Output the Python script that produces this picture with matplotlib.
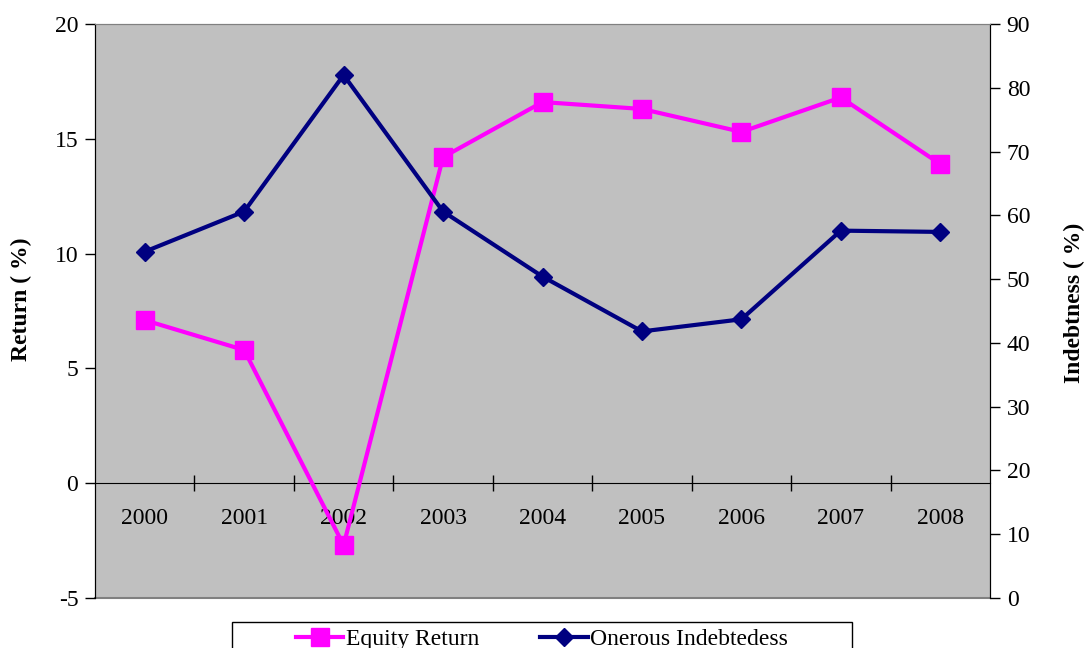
import matplotlib.pyplot as plt
from matplotlib.patches import Rectangle
from matplotlib.lines import Line2D

years = ['2000', '2001', '2002', '2003', '2004', '2005', '2006', '2007', '2008']
equity_return = [7.1, 5.8, -2.7, 14.2, 16.6, 16.3, 15.3, 16.8, 13.9]
onerous_indebtedness = [54.3, 60.6, 82.0, 60.6, 50.4, 41.8, 43.7, 57.6, 57.4]

plt.rcParams['font.family'] = ['Liberation Serif', 'DejaVu Serif']
plt.rcParams['axes.unicode_minus'] = False

fig = plt.figure(figsize=(10.87, 6.48), dpi=100)
ax = fig.add_axes([95 / 1087, 50 / 648, 895 / 1087, 574 / 648])
ax2 = ax.twinx()

x = list(range(len(years)))

ax.set_facecolor('#C0C0C0')
ax.plot(x, equity_return, color='#FF00FF', lw=3, marker='s', ms=12.5,
        label='Equity Return', clip_on=False, zorder=3)
ax2.plot(x, onerous_indebtedness, color='#000080', lw=3, marker='D', ms=9.5,
         label='Onerous Indebtedess', clip_on=False, zorder=3)

ax.set_xlim(-0.5, len(years) - 0.5)
ax.set_ylim(-5, 20)
ax.set_yticks([-5, 0, 5, 10, 15, 20])
ax2.set_ylim(0, 90)
ax2.set_yticks(range(0, 91, 10))

# category axis crosses at zero
ax.spines['bottom'].set_position(('data', 0))
ax.spines['top'].set_color('#808080')
ax2.spines['top'].set_color('#808080')
ax2.spines['bottom'].set_visible(False)
ax.plot([-0.5, len(years) - 0.5], [-5, -5], color='#808080', lw=1.5,
        clip_on=False, zorder=1)

ax.set_xticks([i + 0.5 for i in range(len(years) - 1)])
ax.set_xticklabels([])
ax.set_xticks(x, minor=True)
ax.set_xticklabels(years, minor=True, fontsize=17)
ax.tick_params(axis='x', which='major', direction='inout', length=12, width=1)
ax.tick_params(axis='x', which='minor', length=0, pad=18)

ax.tick_params(axis='y', direction='out', length=7, width=1, labelsize=17, pad=5)
ax2.tick_params(axis='y', direction='out', length=7, width=1, labelsize=17, pad=5)

ax.set_ylabel('Return ( %)', fontsize=17, fontweight='bold')
ax.yaxis.set_label_coords(-0.07, 0.52)
ax2.set_ylabel('Indebtness ( %)', fontsize=17, fontweight='bold')
ax2.yaxis.set_label_coords(1.082, 0.515)

# legend box at the bottom, partly cut off
fig.patches.append(Rectangle((232 / 1087, -0.05), 620 / 1087, 0.09,
                             transform=fig.transFigure, fill=False,
                             edgecolor='black', lw=1))
h1 = Line2D([], [], color='#FF00FF', lw=3, marker='s', ms=12.5)
h2 = Line2D([], [], color='#000080', lw=3, marker='D', ms=9.5)
fig.legend([h1, h2], ['Equity Return', 'Onerous Indebtedess'], ncol=2,
           loc='center', bbox_to_anchor=(542 / 1087, 9 / 648), frameon=False,
           fontsize=17, handlelength=2, handletextpad=0.1, columnspacing=2.6)

plt.savefig('out.png', dpi=100)
